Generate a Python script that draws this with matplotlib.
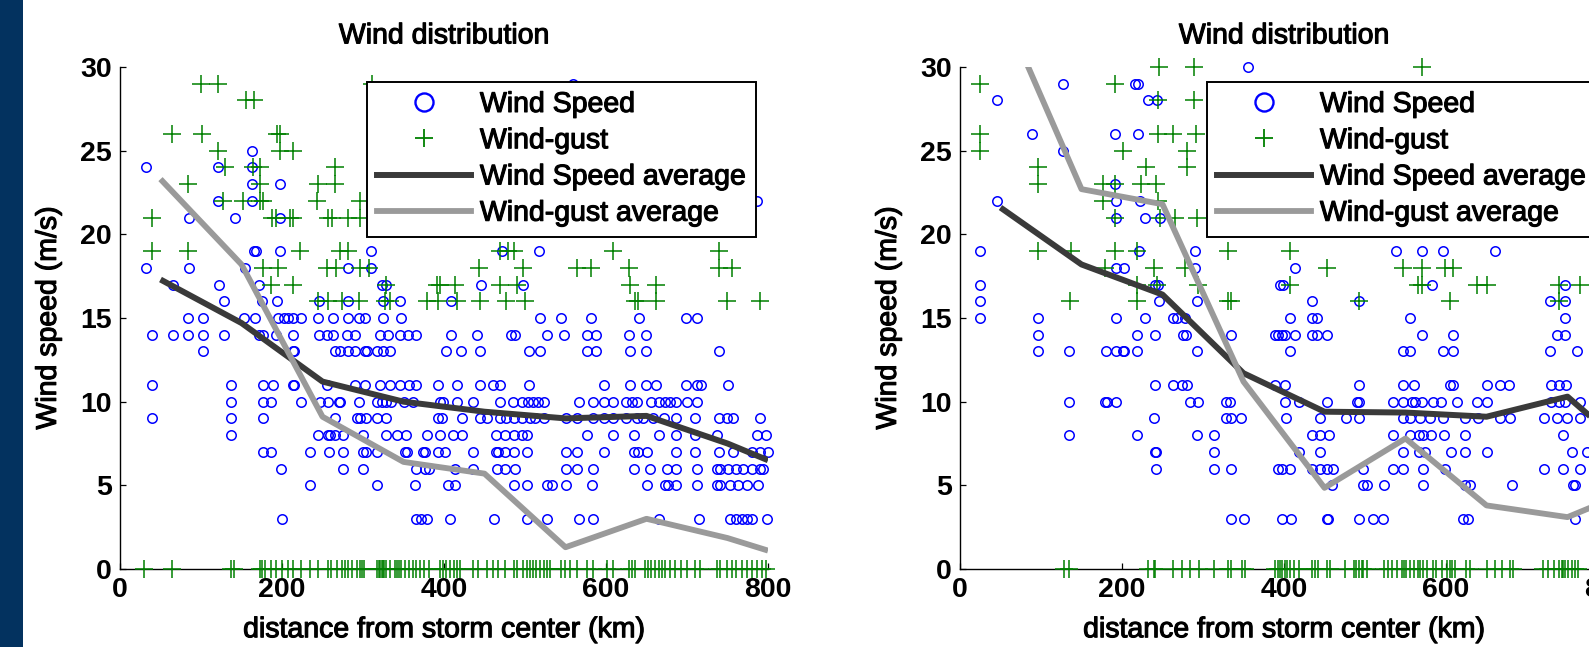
import matplotlib
matplotlib.use("Agg")
import matplotlib.pyplot as plt
from matplotlib.lines import Line2D
from matplotlib.patches import Rectangle
import matplotlib.patheffects as pe

plt.rcParams['font.family'] = ['Liberation Sans', 'DejaVu Sans']

# ---------------- data (distance km, wind m/s) ----------------
# Left panel: wind speed observations grouped by integer speed
left_speed_rows = [
    (29, [559]),
    (25, [163]),
    (24, [32, 121, 163]),
    (23, [163, 198]),
    (22, [121, 163, 786]),
    (21, [85, 142, 198]),
    (19, [165, 168, 198, 310, 471, 517]),
    (18, [32, 85, 154, 282, 310]),
    (17, [65, 122, 172, 324, 329, 446, 497]),
    (16, [129, 175, 194, 246, 282, 325, 346, 409]),
    (15, [84, 102, 153, 167, 195, 202, 208, 213, 223, 245, 263, 282, 295, 302,
          325, 347, 518, 544, 582, 641, 699, 712]),
    (14, [40, 65, 84, 102, 129, 172, 176, 192, 213, 246, 255, 263, 280, 290,
          321, 331, 346, 356, 366, 409, 441, 483, 488, 527, 548, 576, 588, 629, 649]),
    (13, [102, 213, 215, 265, 271, 282, 290, 302, 305, 317, 325, 333, 403, 421,
          444, 505, 518, 576, 588, 630, 649, 739]),
    (11, [40, 137, 176, 189, 213, 215, 255, 290, 302, 321, 333, 346, 357, 365,
          393, 416, 444, 460, 469, 505, 598, 630, 649, 662, 699, 712, 717, 750]),
    (10, [137, 176, 187, 223, 247, 257, 270, 272, 295, 317, 323, 329, 335, 350,
          362, 395, 399, 416, 436, 469, 485, 496, 504, 510, 516, 523, 567, 584,
          597, 609, 625, 632, 638, 656, 665, 673, 679, 687, 700, 712]),
    (9, [40, 137, 177, 265, 293, 296, 304, 317, 328, 393, 397, 422, 444, 453,
         469, 477, 486, 496, 506, 512, 523, 551, 564, 584, 597, 609, 625, 638,
         646, 658, 671, 686, 710, 739, 749, 757, 790]),
    (8, [137, 245, 257, 259, 265, 275, 300, 329, 342, 353, 379, 395, 411, 422,
         464, 475, 486, 496, 502, 576, 609, 634, 665, 687, 710, 737, 786, 798]),
    (7, [176, 187, 235, 258, 275, 300, 304, 317, 352, 354, 374, 377, 393, 401,
         436, 464, 467, 475, 486, 502, 551, 564, 598, 634, 640, 650, 687, 710,
         739, 757, 780, 790, 800]),
    (6, [199, 275, 300, 366, 377, 381, 414, 436, 465, 475, 488, 551, 564, 584,
         634, 654, 675, 687, 712, 737, 741, 751, 761, 769, 780, 790, 794]),
    (5, [235, 317, 364, 405, 414, 486, 502, 527, 533, 551, 583, 650, 673, 677,
         687, 712, 737, 741, 753, 763, 774, 788]),
    (3, [200, 366, 372, 379, 407, 462, 502, 527, 567, 584, 665, 715, 753, 761,
         768, 774, 780, 799]),
]

left_gust_rows = [
    (29, [100, 121, 311]),
    (28, [155, 165]),
    (26, [64, 101, 194, 198]),
    (25, [121, 198, 213]),
    (24, [130, 164, 173, 265]),
    (23, [84, 173, 245, 265]),
    (22, [127, 152, 173, 177, 243, 296]),
    (21, [40, 188, 193, 210, 214, 257, 262, 282, 296]),
    (19, [40, 84, 222, 272, 282, 469, 479, 486, 609, 739]),
    (18, [177, 195, 255, 267, 296, 307, 443, 498, 564, 581, 629, 739, 755]),
    (17, [187, 214, 329, 391, 395, 414, 469, 490, 630, 662]),
    (16, [245, 257, 274, 295, 327, 333, 379, 393, 416, 444, 477, 500, 636, 640,
          662, 749, 790]),
]

left_gust_zero_km = [30, 64, 137, 141, 173, 175, 179, 186, 193, 200, 207, 214, 224,
                     235, 245, 257, 261, 268, 274, 278, 282, 287, 293, 296, 299, 301,
                     317, 320, 321, 323, 325, 326, 329, 333, 340, 342, 344, 347, 352,
                     357, 362, 366, 370, 375, 381, 395, 399, 403, 407, 412, 416, 420,
                     436, 442, 453, 461, 467, 475, 486, 490, 498, 502, 506, 510, 514,
                     519, 523, 527, 531, 545, 549, 556, 564, 576, 584, 601, 609, 628,
                     632, 636, 648, 652, 656, 661, 665, 669, 673, 679, 685, 693, 700,
                     710, 716, 737, 741, 749, 755, 761, 768, 774, 780, 786, 792, 798]

# Right panel
right_speed_rows = [
    (30, [356]),
    (29, [127, 216, 220]),
    (28, [46, 232, 243]),
    (26, [89, 191, 220]),
    (25, [127]),
    (23, [191]),
    (22, [46, 193, 222]),
    (21, [193, 228, 247]),
    (19, [25, 221, 290, 538, 570, 596, 660]),
    (18, [193, 202, 290, 414]),
    (17, [25, 241, 245, 395, 399, 583, 747]),
    (16, [25, 246, 293, 435, 492, 728, 747]),
    (15, [25, 96, 193, 228, 263, 268, 278, 408, 435, 441, 556, 747]),
    (14, [96, 218, 241, 275, 279, 335, 389, 393, 397, 401, 414, 435, 441, 453,
          570, 609, 737, 747]),
    (13, [96, 134, 180, 193, 201, 203, 218, 293, 408, 547, 556, 596, 609, 728, 762]),
    (11, [241, 263, 274, 280, 389, 401, 492, 547, 560, 605, 609, 650, 667, 678,
          730, 739, 748]),
    (10, [134, 179, 181, 193, 284, 294, 329, 333, 401, 418, 453, 490, 493, 534,
          547, 558, 562, 570, 584, 594, 614, 638, 650, 730, 739, 747, 765]),
    (9, [240, 329, 335, 347, 402, 444, 477, 493, 547, 556, 568, 580, 596, 623,
         640, 667, 679, 721, 737, 749, 765]),
    (8, [134, 218, 293, 313, 434, 444, 455, 534, 556, 567, 571, 582, 597, 623, 745]),
    (7, [241, 242, 313, 419, 444, 547, 567, 574, 606, 623, 650, 756, 774]),
    (6, [242, 313, 334, 393, 397, 407, 434, 444, 453, 460, 498, 534, 547, 571,
         599, 721, 744, 765]),
    (5, [459, 498, 502, 523, 572, 623, 630, 682, 757, 759]),
    (3, [335, 351, 397, 409, 453, 454, 493, 510, 522, 621, 627, 759]),
]

right_gust_rows = [
    (30, [246, 289, 570]),
    (29, [25, 191]),
    (28, [245, 289]),
    (26, [25, 245, 263, 291]),
    (25, [25, 201, 280]),
    (24, [96, 230, 280]),
    (23, [96, 176, 191, 224, 242]),
    (22, [176, 245]),
    (21, [191, 247, 265, 292]),
    (19, [96, 137, 191, 218, 331, 408]),
    (18, [179, 240, 278, 453, 547, 570, 599, 609]),
    (17, [219, 243, 294, 408, 566, 570, 638, 650, 739, 765]),
    (16, [136, 219, 331, 335, 493, 605, 739]),
]

right_gust_zero_km = [128, 134, 232, 239, 241, 263, 274, 284, 295, 313, 331, 335, 348,
                      352, 389, 392, 395, 398, 401, 404, 407, 412, 418, 434, 438, 442,
                      453, 457, 475, 486, 489, 492, 496, 498, 502, 523, 529, 533, 539,
                      546, 548, 551, 556, 560, 566, 568, 572, 576, 584, 588, 595, 601,
                      605, 607, 611, 625, 630, 650, 660, 669, 679, 683, 720, 726, 733,
                      739, 743, 745, 747, 751, 755, 759, 763]

# Binned averages
avg_km = [50, 150, 250, 350, 450, 550, 650, 750, 800]
left_speed_avg = [17.3, 14.7, 11.2, 10.0, 9.4, 9.0, 9.15, 7.5, 6.5]
left_gust_avg = [23.3, 18.2, 9.1, 6.4, 5.7, 1.3, 3.0, 1.85, 1.1]
right_speed_avg = [21.6, 18.2, 16.4, 11.7, 9.4, 9.35, 9.1, 10.3, 8.2]
right_gust_avg = [33.8, 22.7, 21.8, 11.2, 4.85, 7.8, 3.8, 3.1, 4.1]

x_ticks = [0, 200, 400, 600, 800]
y_ticks = [0, 5, 10, 15, 20, 25, 30]
title_text = "Wind distribution"
xlabel_text = "distance from storm center (km)"
ylabel_text = "Wind speed (m/s)"
legend_labels = ["Wind Speed", "Wind-gust", "Wind Speed average", "Wind-gust average"]


def flatten(rows):
    xs, ys = [], []
    for v, kms in rows:
        for k in kms:
            xs.append(k)
            ys.append(v)
    return xs, ys


W, H = 1589, 647
fig = plt.figure(figsize=(W / 100, H / 100), dpi=100)
fig.patches.append(Rectangle((0, 0), 23 / W, 1, transform=fig.transFigure,
                             facecolor='#03325F', edgecolor='none', zorder=0))

FS = 20.5
DARK = '#3a3a3a'
LIGHT = '#9a9a9a'
THICK = [pe.withStroke(linewidth=0.8, foreground='black')]


def panel(left_px, speed_rows, gust_rows, zero_km, s_avg, g_avg):
    ax = fig.add_axes([left_px / W, 1 - 569 / H, 648 / W, 502 / H])
    sx, sy = flatten(speed_rows)
    gx, gy = flatten(gust_rows)
    gx = gx + list(zero_km)
    gy = gy + [0] * len(zero_km)
    ax.plot(sx, sy, ls='none', marker='o', ms=6.8, mfc='none', mec='#0000ff',
            mew=1.1, clip_on=False, zorder=3)
    ax.plot(gx, gy, ls='none', marker='+', ms=12.5, color='#008000', mew=1.1,
            clip_on=False, zorder=3)
    ax.plot(avg_km, s_avg, color=DARK, lw=4.3, zorder=4, solid_capstyle='butt')
    ax.plot(avg_km, g_avg, color=LIGHT, lw=4.2, zorder=4, solid_capstyle='butt')
    ax.set_xlim(0, 800)
    ax.set_ylim(0, 30)
    ax.set_xticks(x_ticks)
    ax.set_xticklabels([str(t) for t in x_ticks], fontweight='bold')
    ax.set_yticks(y_ticks)
    ax.set_yticklabels([str(t) for t in y_ticks], fontweight='bold')
    ax.tick_params(direction='in', length=4, width=0.9, labelsize=FS, pad=6,
                   colors='black')
    for s in ['top', 'right']:
        ax.spines[s].set_visible(False)
    for s in ['left', 'bottom']:
        ax.spines[s].set_linewidth(1.0)
    t = ax.set_title(title_text, fontsize=FS, pad=17)
    t.set_path_effects(THICK)
    xl = ax.set_xlabel(xlabel_text, fontsize=FS, labelpad=10)
    xl.set_path_effects(THICK)
    yl = ax.set_ylabel(ylabel_text, fontsize=FS, labelpad=13)
    yl.set_path_effects(THICK)

    handles = [
        Line2D([], [], ls='none', marker='o', ms=13, mfc='none', mec='#0000ff', mew=1.7),
        Line2D([], [], ls='none', marker='+', ms=13, color='#008000', mew=1.3),
        Line2D([], [], color=DARK, lw=4.3),
        Line2D([], [], color=LIGHT, lw=4.2),
    ]
    leg = ax.legend(handles, legend_labels, loc='upper right',
                    bbox_to_anchor=(1 - 12 / 648, 1 - 15 / 502), borderaxespad=0,
                    fontsize=FS, frameon=True, fancybox=False, framealpha=1,
                    edgecolor='black', handlelength=3.3, handletextpad=0.3,
                    labelspacing=0.36, borderpad=0.35)
    leg.get_frame().set_linewidth(1.4)
    for txt in leg.get_texts():
        txt.set_path_effects(THICK)
    leg.set_zorder(10)
    return ax


panel(120, left_speed_rows, left_gust_rows, left_gust_zero_km,
      left_speed_avg, left_gust_avg)
panel(960, right_speed_rows, right_gust_rows, right_gust_zero_km,
      right_speed_avg, right_gust_avg)

fig.savefig("out.png", dpi=100)
